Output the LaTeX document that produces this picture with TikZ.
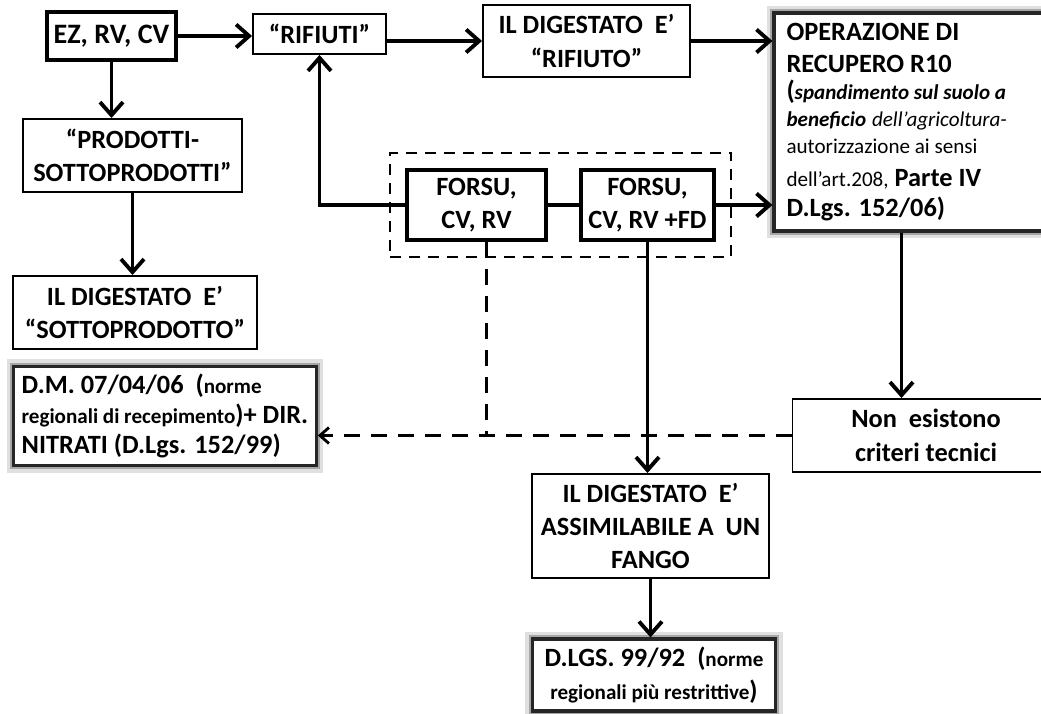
\documentclass[tikz,border=0pt]{standalone}
\usepackage{fontspec}
\setmainfont{Carlito}
\usetikzlibrary{arrows.meta,positioning,fit}

\newcommand{\smtext}[1]{{\fontsize{12}{14}\selectfont #1}}

\begin{document}
\begin{tikzpicture}[
  box/.style={draw,line width=1.1pt,fill=white,align=center,font=\fontsize{15}{19}\selectfont\bfseries,inner sep=2pt},
  thickbox/.style={box,line width=2.4pt},
  glowbox/.style={box,draw=black!85,line width=1.8pt,preaction={draw=black!35,line width=4.5pt,preaction={draw=black!12,line width=8pt}}},
  group/.style={draw,line width=1.5pt,dash pattern=on 2.2mm off 1.6mm,inner sep=0.3cm},
  arr/.style={-{Straight Barb[length=2.6mm,width=4.6mm]},line width=2.2pt},
  link/.style={line width=2.2pt},
  dasharr/.style={-{Straight Barb[length=1.8mm,width=3.2mm]},line width=1.6pt,dash pattern=on 3.2mm off 2.2mm}
]
\useasboundingbox (0,0) rectangle (20.82,14.26);

% top row
\node[thickbox,font=\fontsize{16}{19}\selectfont\bfseries,
      minimum width=2.58cm,minimum height=0.96cm]     (ez)      at (2.23,13.54) {EZ, RV, CV};
\node[box,minimum width=2.66cm,minimum height=0.80cm] (rifiuti) at (6.39,13.58) {“RIFIUTI”};
\node[box,minimum width=4.14cm,minimum height=1.44cm] (digrif)  at (11.73,13.44) {IL DIGESTATO\ \ E’\\“RIFIUTO”};
\node[glowbox,font=\fontsize{15}{15.5}\selectfont\bfseries,align=flush left,text width=5.0cm,
      minimum width=5.5cm,minimum height=4.36cm]      (op)      at (18.23,11.82)
  {OPERAZIONE DI\\[2.7pt]RECUPERO R10\\(\smtext{\itshape spandimento sul suolo a}\\
   \smtext{\itshape beneficio} \smtext{\mdseries\itshape dell’agricoltura-}\\
   \smtext{\mdseries autorizzazione ai sensi}\\[3.2pt]
   \smtext{\mdseries dell’art.208,} Parte IV\\[1.6pt]D.Lgs. 152/06)};

% left column
\node[box,minimum width=4.38cm,minimum height=1.46cm] (prod)    at (2.65,11.15) {“PRODOTTI-\\SOTTOPRODOTTI”};
\node[box,minimum width=4.88cm,minimum height=1.46cm] (digsott) at (2.70,8.01)  {IL DIGESTATO\ \ E’\\“SOTTOPRODOTTO”};
\node[glowbox,font=\fontsize{15}{17}\selectfont\bfseries,align=left,
      minimum width=6.05cm,minimum height=1.98cm]     (dm)      at (3.30,5.94)
  {D.M. 07/04/06\ \ (\smtext{norme}\\\smtext{regionali di recepimento})+ DIR.\\NITRATI (D.Lgs. 152/99)};

% FORSU group
\node[thickbox,minimum width=2.78cm,minimum height=1.40cm] (forsu1) at (9.53,10.16)  {FORSU,\\CV, RV};
\node[thickbox,minimum width=2.66cm,minimum height=1.40cm] (forsu2) at (12.95,10.16) {FORSU,\\CV, RV +FD};
\node[group,fit=(forsu1)(forsu2)] (mix) {};

% lower right
\node[box,minimum width=5.34cm,minimum height=1.46cm] (noncrit) at (18.52,5.55) {Non\ \ esistono\\criteri tecnici};
\node[box,minimum width=4.74cm,minimum height=2.08cm] (assim)   at (13.01,3.74) {IL DIGESTATO\ \ E’\\ASSIMILABILE A\ \ UN\\FANGO};
\node[glowbox,minimum width=4.86cm,minimum height=1.44cm] (dlgs) at (13.08,0.76)
  {D.LGS. 99/92\ \ (\smtext{norme}\\\smtext{regionali più restrittive})};

\coordinate (drop)   at ([xshift=0.2cm]forsu1.south);
\coordinate (opdrop) at ([xshift=-0.2cm]op.south);

\draw[arr] (ez.east) -- (ez.east -| rifiuti.west);
\draw[arr] (rifiuti.east |- digrif.west) -- (digrif.west);
\draw[arr] (digrif.east) -- (digrif.east -| op.west);
\draw[arr] (ez.south) -- (ez.south |- prod.north);
\draw[arr] (prod.south) -- (prod.south |- digsott.north);
\draw[arr] (forsu1.west) -| (rifiuti.south);
\draw[link] (forsu1.east) -- (forsu2.west);
\draw[arr] (forsu2.east) -- (forsu2.east -| op.west);
\draw[arr] (opdrop) -- (opdrop |- noncrit.north);
\draw[arr] (forsu2.south) -- (forsu2.south |- assim.north);
\draw[arr] (assim.south) -- (assim.south |- dlgs.north);
\draw[dasharr] (noncrit.west) -- (noncrit.west -| dm.east);
\draw[dasharr,-] (drop) -- (drop |- noncrit.west);
\end{tikzpicture}
\end{document}
